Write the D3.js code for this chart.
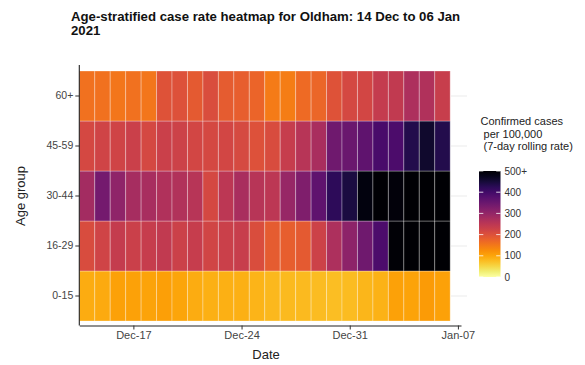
<!DOCTYPE html>
<html><head><meta charset="utf-8">
<script src="https://cdn.jsdelivr.net/npm/d3@7"></script>
<style>body{margin:0;background:#fff} text{font-family:"Liberation Sans",Arial,sans-serif}</style>
</head><body><svg id="c" width="585" height="365"></svg>
<script>
// ---- data ----
const dates = ["2020-12-14","2020-12-15","2020-12-16","2020-12-17","2020-12-18","2020-12-19","2020-12-20","2020-12-21",
  "2020-12-22","2020-12-23","2020-12-24","2020-12-25","2020-12-26","2020-12-27","2020-12-28","2020-12-29",
  "2020-12-30","2020-12-31","2021-01-01","2021-01-02","2021-01-03","2021-01-04","2021-01-05","2021-01-06"];
const ageGroups = ["0-15","16-29","30-44","45-59","60+"];
const rate_0_15  = [93,94,104,104,102,106,100,92,89,88,88,85,82,80,80,77,75,77,83,86,104,103,110,104];
const rate_16_29 = [208,221,238,229,235,241,227,236,220,230,233,206,184,180,186,226,268,307,344,387,495,520,520,520];
const rate_30_44 = [280,339,306,277,275,265,263,254,214,250,273,255,250,296,325,364,423,444,487,520,491,520,520,520];
const rate_45_59 = [214,221,221,230,214,230,226,217,214,217,211,201,208,236,255,273,344,350,364,392,388,435,459,434];
const rate_60p   = [157,157,152,157,152,198,201,186,206,184,180,173,145,144,166,170,198,214,217,238,242,268,265,233];
const seriesByGroup = {"0-15":rate_0_15,"16-29":rate_16_29,"30-44":rate_30_44,"45-59":rate_45_59,"60+":rate_60p};
const xTickDates = ["2020-12-17","2020-12-24","2020-12-31","2021-01-07"];
const legendTicks = [0,100,200,300,400,500];
const legendLabels = ["0","100","200","300","400","500+"];

// ---- setup ----
const svg = d3.select("#c");
const parse = d3.utcParse("%Y-%m-%d");
const H12 = 12*3600*1000;
const x = d3.scaleUtc()
  .domain([new Date(parse("2020-12-14").getTime()-H12), new Date(parse("2021-01-07").getTime()+0.2*24*3600*1000)])
  .range([79.3, 461]);
const y = d3.scaleBand().domain(ageGroups).range([321, 71]).paddingInner(0).paddingOuter(0);
const color = d3.scaleSequential(t => d3.interpolateInferno(1 - t)).domain([0, 500]).clamp(true);

const cells = [];
ageGroups.forEach(g => seriesByGroup[g].forEach((v, i) => cells.push({g, d: parse(dates[i]), v})));

// gridline stubs on right side
svg.append("g").selectAll("line").data(ageGroups).join("line")
  .attr("x1", 451).attr("x2", 467)
  .attr("y1", d => y(d) + y.bandwidth()/2).attr("y2", d => y(d) + y.bandwidth()/2)
  .attr("stroke", "#ebebeb").attr("stroke-width", 1);

// tiles
svg.append("g").selectAll("rect").data(cells).join("rect")
  .attr("x", d => x(new Date(d.d.getTime()-H12)))
  .attr("width", d => x(new Date(d.d.getTime()+H12)) - x(new Date(d.d.getTime()-H12)))
  .attr("y", d => y(d.g)).attr("height", y.bandwidth())
  .attr("fill", d => color(d.v))
  .attr("stroke", "rgba(255,255,255,0.3)").attr("stroke-width", 1);

// axes
const yAxis = svg.append("g").attr("transform", "translate(79.3,0)")
  .call(d3.axisLeft(y).tickSize(4).tickSizeOuter(0).tickPadding(2));
yAxis.select(".domain").remove();
yAxis.selectAll(".tick line").attr("stroke", "#333");
yAxis.selectAll(".tick text").attr("fill", "#444").style("font-size", "10.5px").style("font-family", "Liberation Sans, Arial, sans-serif");
svg.append("line").attr("x1", 79.3).attr("x2", 79.3).attr("y1", 65).attr("y2", 325.5).attr("stroke", "#222").attr("stroke-width", 1.1);

const xAxis = svg.append("g").attr("transform", "translate(0,325.5)")
  .call(d3.axisBottom(x).tickValues(xTickDates.map(parse)).tickFormat(d3.utcFormat("%b-%d")).tickSize(4).tickSizeOuter(0).tickPadding(2));
xAxis.select(".domain").attr("stroke", "#222").attr("stroke-width", 1.1);
xAxis.selectAll(".tick line").attr("stroke", "#333");
xAxis.selectAll(".tick text").attr("fill", "#444").style("font-size", "11px").style("font-family", "Liberation Sans, Arial, sans-serif");

// titles
svg.append("text").attr("x", 71).attr("y", 21).attr("font-weight", "bold").attr("font-size", "13.2px").attr("fill", "#111")
  .text("Age-stratified case rate heatmap for Oldham: 14 Dec to 06 Jan");
svg.append("text").attr("x", 71).attr("y", 35.3).attr("font-weight", "bold").attr("font-size", "13.2px").attr("fill", "#111")
  .text("2021");
svg.append("text").attr("x", 266).attr("y", 359).attr("text-anchor", "middle").attr("font-size", "13px").attr("fill", "#222").text("Date");
svg.append("text").attr("transform", "translate(25,196) rotate(-90)").attr("text-anchor", "middle").attr("font-size", "13px").attr("fill", "#222").text("Age group");

// legend
const lg = svg.append("g");
["Confirmed cases", " per 100,000", " (7-day rolling rate)"].forEach((t, i) => {
  lg.append("text").attr("x", 480.5).attr("y", 125 + i*12.6).attr("font-size", "11px").attr("fill", "#222")
    .style("white-space", "pre").text(t);
});
const defs = svg.append("defs");
const grad = defs.append("linearGradient").attr("id", "lgd").attr("x1", 0).attr("x2", 0).attr("y1", 1).attr("y2", 0);
d3.range(0, 1.0001, 0.05).forEach(t => grad.append("stop").attr("offset", t).attr("stop-color", color(t*500)));
const ly = d3.scaleLinear().domain([0, 500]).range([277, 171]);
lg.append("rect").attr("x", 479).attr("y", ly(500)).attr("width", 21.5).attr("height", ly(0) - ly(500)).attr("fill", "url(#lgd)");
lg.selectAll(".tl").data(legendTicks).join("line").attr("class", "tl")
  .attr("x1", 479).attr("x2", 483.3).attr("y1", d => ly(d)).attr("y2", d => ly(d)).attr("stroke", "rgba(255,255,255,0.8)");
lg.selectAll(".tr").data(legendTicks).join("line").attr("class", "tr")
  .attr("x1", 496.2).attr("x2", 500.5).attr("y1", d => ly(d)).attr("y2", d => ly(d)).attr("stroke", "rgba(255,255,255,0.8)");
lg.selectAll(".lt").data(legendTicks).join("text").attr("class", "lt")
  .attr("x", 504.5).attr("y", (d) => ly(d) + 3.6).attr("font-size", "10px").attr("fill", "#333")
  .text((d, i) => legendLabels[i]);
</script></body></html>
